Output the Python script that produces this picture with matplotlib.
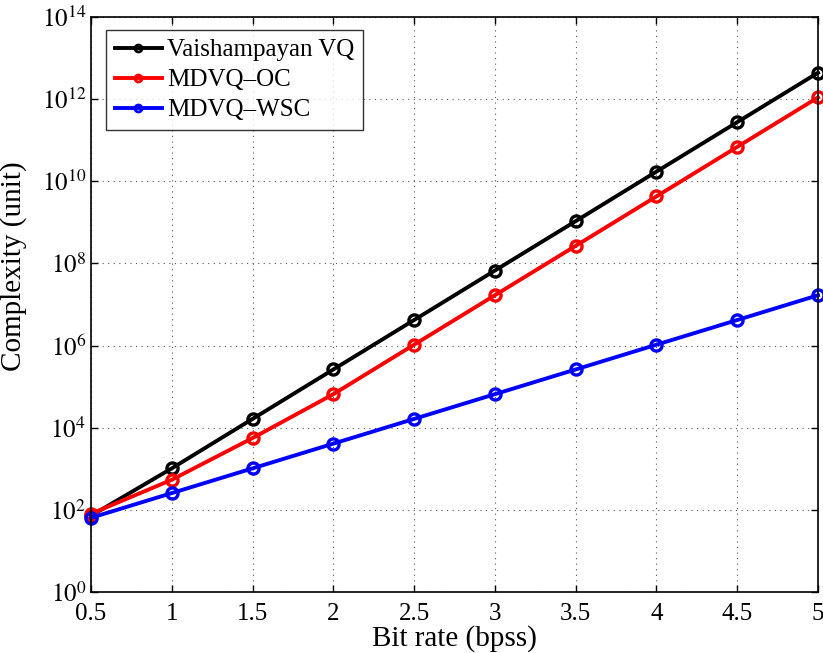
import matplotlib
matplotlib.use('Agg')
import matplotlib.pyplot as plt
from matplotlib.ticker import FixedLocator, NullLocator

plt.rcParams['font.family'] = ['Liberation Serif', 'DejaVu Serif']
plt.rcParams['mathtext.fontset'] = 'stix'

# data
bit_rate = [0.5, 1, 1.5, 2, 2.5, 3, 3.5, 4, 4.5, 5]
vaish_vq = [72, 1024, 16384, 2.62e5, 4.19e6, 6.71e7, 1.07e9, 1.72e10, 2.75e11, 4.40e12]
mdvq_oc = [80, 540, 5600, 6.55e4, 1.05e6, 1.68e7, 2.68e8, 4.29e9, 6.87e10, 1.10e12]
mdvq_wsc = [64, 256, 1024, 4096, 16384, 65536, 2.62e5, 1.05e6, 4.19e6, 1.68e7]
labels = ['Vaishampayan VQ', 'MDVQ\u2013OC', 'MDVQ\u2013WSC']
colors = ['black', 'red', 'blue']
y_ticks = [1e0, 1e2, 1e4, 1e6, 1e8, 1e10, 1e12, 1e14]

fig = plt.figure(figsize=(8.23, 6.53), dpi=100)
ax = fig.add_axes([91 / 823, 1 - 592 / 653, 727 / 823, 575 / 653])

for ys, lab, c in zip([vaish_vq, mdvq_oc, mdvq_wsc], labels, colors):
    ax.plot(bit_rate, ys, '-o', color=c, lw=2.8, ms=8, mfc='none', mew=2.4,
            label=lab, clip_on=False)

ax.set_yscale('log')
ax.set_xlim(0.5, 5)
ax.set_ylim(1e0, 1e14)
ax.set_xticks(bit_rate)
ax.set_xticklabels(['0.5', '1', '1.5', '2', '2.5', '3', '3.5', '4', '4.5', '5'])
ax.yaxis.set_major_locator(FixedLocator(y_ticks))
ax.yaxis.set_minor_locator(NullLocator())
ax.set_yticklabels(['$10^{%d}$' % i for i in range(0, 15, 2)])
ax.grid(True, which='major', linestyle=(0, (1, 4)), color='#555555', lw=0.8)
ax.tick_params(direction='in', length=5, labelsize=18, width=1, top=True, right=True)
ax.tick_params(axis='x', pad=8)
for s in ax.spines.values():
    s.set_linewidth(1.2)

ax.set_xlabel('Bit rate (bpss)', fontsize=21, labelpad=0)
ax.set_ylabel('Complexity (unit)', fontsize=21)
ax.yaxis.set_label_coords(-0.088, 0.567)

leg = ax.legend(loc='upper left', fontsize=18, frameon=True, fancybox=False,
                edgecolor='black', borderpad=0.35, handlelength=1.9,
                handletextpad=0.2, labelspacing=0.3, borderaxespad=0,
                bbox_to_anchor=(0.0206, 0.977))
leg.get_frame().set_linewidth(1.0)
for ln in leg.get_lines():
    ln.set_markersize(5)
    ln.set_markeredgewidth(2)

fig.savefig('out.png', dpi=100)
